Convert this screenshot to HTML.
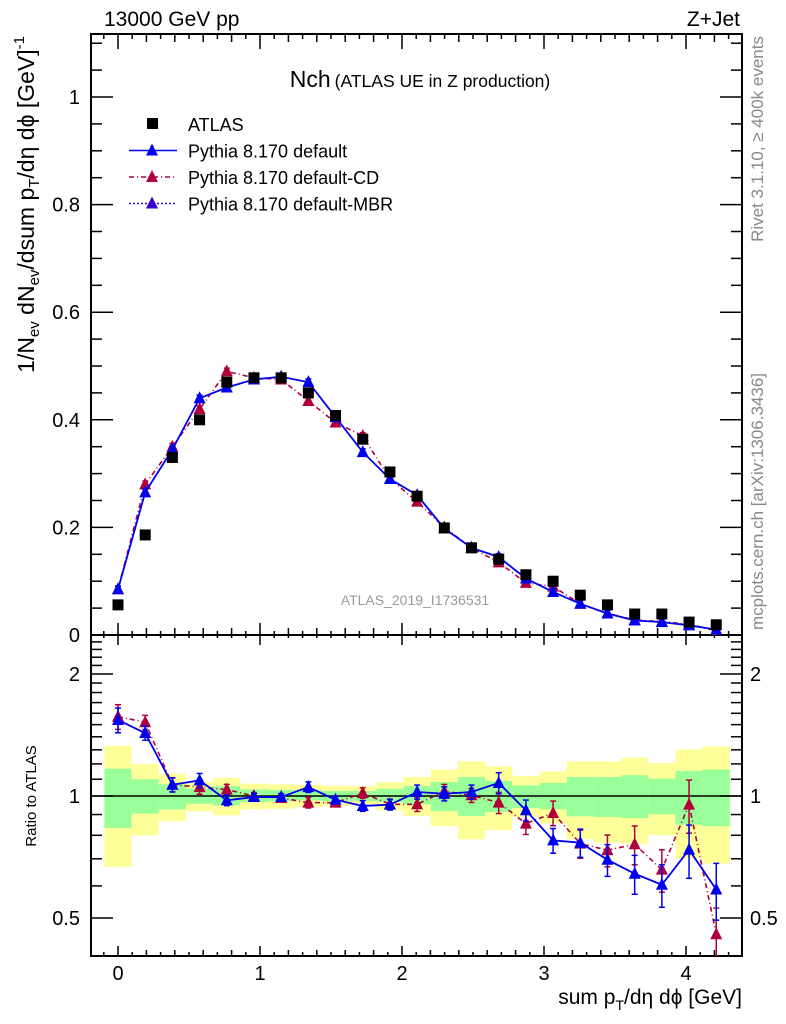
<!DOCTYPE html>
<html><head><meta charset="utf-8"><style>
html,body{margin:0;padding:0;background:#fff;}
svg{display:block;font-family:"Liberation Sans",sans-serif;}
</style></head><body>
<svg id="chart" width="786" height="1024" viewBox="0 0 786 1024" xmlns="http://www.w3.org/2000/svg">
<defs>
<clipPath id="clipMain"><rect x="91" y="34" width="651" height="601"/></clipPath>
<clipPath id="clipRatio"><rect x="91" y="635" width="651" height="321"/></clipPath>
</defs>
<g id="bands" clip-path="url(#clipRatio)"></g>
<g id="axes"></g>
<g id="series"></g>
<text x="104" y="26" font-size="21">13000 GeV pp</text>
<text x="740" y="26" font-size="21" text-anchor="end">Z+Jet</text>
<text x="420" y="87" text-anchor="middle"><tspan font-size="23">Nch</tspan><tspan font-size="17.5" dx="4">(ATLAS UE in Z production)</tspan></text>
<text x="415" y="605" font-size="14" fill="#999" text-anchor="middle">ATLAS_2019_I1736531</text>
<text transform="translate(763,36) rotate(-90)" font-size="17" fill="#888" text-anchor="end">Rivet 3.1.10, ≥ 400k events</text>
<text transform="translate(763,630) rotate(-90)" font-size="17" fill="#888" text-anchor="start">mcplots.cern.ch [arXiv:1306.3436]</text>
<text transform="translate(34,36) rotate(-90)" font-size="23" text-anchor="end">1/N<tspan font-size="15" dy="5">ev</tspan><tspan dy="-5"> dN</tspan><tspan font-size="15" dy="5">ev</tspan><tspan dy="-5">/dsum p</tspan><tspan font-size="15" dy="5">T</tspan><tspan dy="-5">/dη dϕ  [GeV]</tspan><tspan font-size="15" dy="-10">-1</tspan></text>
<text transform="translate(36,796) rotate(-90)" font-size="15" text-anchor="middle">Ratio to ATLAS</text>
<text x="742" y="1004" font-size="21" text-anchor="end">sum p<tspan font-size="14" dy="6">T</tspan><tspan dy="-6">/dη dϕ [GeV]</tspan></text>
<g id="legend"></g>
</svg>
<script>
const xValues=[0,0.1915,0.383,0.5745,0.766,0.9575,1.149,1.3405,1.532,1.7235,1.915,2.1065,2.298,2.4895,2.681,2.8725,3.064,3.2555,3.447,3.6385,3.83,4.0215,4.213];
const atlas=[0.056,0.186,0.33,0.40,0.47,0.478,0.478,0.45,0.408,0.364,0.303,0.258,0.199,0.162,0.141,0.112,0.10,0.074,0.056,0.039,0.039,0.024,0.019];
const defMain=[0.085,0.265,0.345,0.44,0.46,0.475,0.48,0.47,0.405,0.34,0.29,0.26,0.198,0.162,0.145,0.105,0.08,0.058,0.04,0.027,0.024,0.018,0.01];
const cdMain=[0.085,0.28,0.35,0.42,0.49,0.478,0.475,0.435,0.395,0.37,0.29,0.248,0.2,0.162,0.135,0.097,0.09,0.058,0.04,0.028,0.025,0.02,0.008];
const defRatio=[1.54,1.43,1.066,1.093,0.976,0.994,0.994,1.052,0.979,0.945,0.952,1.023,1.013,1.023,1.077,0.922,0.777,0.767,0.696,0.643,0.604,0.737,0.588];
const cdRatio=[1.57,1.52,1.066,1.052,1.037,1.0,0.989,0.963,0.963,1.017,0.954,0.954,1.027,1.004,0.963,0.855,0.908,0.763,0.735,0.76,0.658,0.952,0.456];
const ratioErr=[0.07,0.04,0.04,0.04,0.03,0.02,0.02,0.03,0.02,0.03,0.03,0.04,0.04,0.04,0.06,0.06,0.07,0.08,0.09,0.11,0.12,0.15,0.16];
const yellowHi=[1.33,1.20,1.135,1.083,1.108,1.073,1.068,1.066,1.06,1.058,1.081,1.114,1.163,1.218,1.183,1.12,1.15,1.218,1.218,1.243,1.206,1.303,1.326];
const yellowLo=[0.668,0.80,0.866,0.917,0.896,0.927,0.93,0.939,0.945,0.948,0.922,0.893,0.843,0.782,0.823,0.888,0.855,0.782,0.767,0.763,0.80,0.70,0.681];
const greenHi=[1.168,1.10,1.068,1.042,1.058,1.038,1.034,1.034,1.029,1.029,1.042,1.058,1.083,1.114,1.089,1.062,1.077,1.114,1.114,1.125,1.103,1.153,1.163];
const greenLo=[0.834,0.905,0.927,0.957,0.948,0.966,0.97,0.976,0.972,0.972,0.966,0.954,0.918,0.893,0.913,0.934,0.927,0.891,0.888,0.882,0.901,0.85,0.842];
const mainTicks=[0,0.2,0.4,0.6,0.8,1];
const mainTickLabels=["0","0.2","0.4","0.6","0.8","1"];
const ratioTicks=[0.5,1,2];
const ratioTickLabels=["0.5","1","2"];
const xTicks=[0,1,2,3,4];
const xTickLabels=["0","1","2","3","4"];

const NS="http://www.w3.org/2000/svg";
const L=91,R=742,T=34,MB=635,RB=956;
const X=v=>118+142*v;
const Ym=v=>635-538*v;
const Yr=r=>796-122*Math.log2(r);
const binW=0.1915;
function mk(tag,attrs,parent){const e=document.createElementNS(NS,tag);for(const k in attrs)e.setAttribute(k,attrs[k]);parent.appendChild(e);return e;}
const axes=document.getElementById('axes'),series=document.getElementById('series'),bands=document.getElementById('bands'),legend=document.getElementById('legend');

for(let i=0;i<xValues.length;i++){
  const x0=X(xValues[i]-binW/2),w=142*binW;
  const y=mk('rect',{x:x0,y:Yr(yellowHi[i]),width:w,height:Yr(yellowLo[i])-Yr(yellowHi[i]),fill:'#ffff99'},bands);
  
  
  const g=mk('rect',{x:x0,y:Yr(greenHi[i]),width:w,height:Yr(greenLo[i])-Yr(greenHi[i]),fill:'#99ff99'},bands);
  
  
}
mk('line',{x1:L,x2:R,y1:Yr(1),y2:Yr(1),stroke:'#000','stroke-width':1.5},bands);

mk('rect',{x:L,y:T,width:R-L,height:RB-T,fill:'none',stroke:'#000','stroke-width':2},axes);
mk('line',{x1:L,x2:R,y1:MB,y2:MB,stroke:'#000','stroke-width':2},axes);
function tick(x1,y1,x2,y2){mk('line',{x1,y1,x2,y2,stroke:'#000','stroke-width':1.5},axes);}
for(let k=-1;k<=43;k++){
  const v=k/10,x=X(v);if(x<L+1||x>R-1)continue;
  const maj=k%10===0,mid=k%2===0;
  const lt=maj?15:(mid?8:5), lb=maj?10:(mid?6:4);
  tick(x,T,x,T+lt);tick(x,MB-(maj?12:lt-1),x,MB+(maj?10:3));tick(x,RB,x,RB-lb);
}
for(let k=0;k<=22;k++){const v=k*0.05,y=Ym(v);if(y<T+1)continue;const maj=k%4===0;const l=maj?22:11;tick(L,y,L+l,y);tick(R,y,R-l,y);}
mainTicks.forEach((v,i)=>{const t=mk('text',{x:80,y:Ym(v)+7,'font-size':20,'text-anchor':'end'},axes);t.textContent=mainTickLabels[i];

});
for(let k=5;k<=25;k++){const r=k/10,y=Yr(r);if(y<MB+2||y>RB-1)continue;const maj=(k===5||k===10||k===20);const l=maj?22:11;tick(L,y,L+l,y);tick(R,y,R-l,y);}
ratioTicks.forEach((v,i)=>{const t=mk('text',{x:80,y:Yr(v)+7,'font-size':20,'text-anchor':'end'},axes);t.textContent=ratioTickLabels[i];


const t2=mk('text',{x:750,y:Yr(v)+7,'font-size':20},axes);t2.textContent=ratioTickLabels[i];

});
xTicks.forEach((v,i)=>{const t=mk('text',{x:X(v),y:980,'font-size':20,'text-anchor':'middle'},axes);t.textContent=xTickLabels[i];

});

function tri(x,y,c,parent){return mk('polygon',{points:`${x-6},${y+5} ${x+6},${y+5} ${x},${y-7}`,fill:c},parent);}
function drawSeries(vals,yf,color,dash,err,clip,name){
  const g=mk('g',{'clip-path':clip},series);
  
  
  const pts=vals.map((v,i)=>`${X(xValues[i])},${yf(v)}`).join(' ');
  mk('polyline',{points:pts,fill:'none',stroke:color,'stroke-width':dash?1.6:1.8,'stroke-dasharray':dash||'none'},g);
  vals.forEach((v,i)=>{const x=X(xValues[i]);
    const lo=err(v,i,-1),hi=err(v,i,1);
    mk('line',{x1:x,x2:x,y1:yf(hi),y2:yf(lo),stroke:color,'stroke-width':1.5},g);
    mk('line',{x1:x-3,x2:x+3,y1:yf(hi),y2:yf(hi),stroke:color,'stroke-width':1.5},g);
    mk('line',{x1:x-3,x2:x+3,y1:yf(lo),y2:yf(lo),stroke:color,'stroke-width':1.5},g);
    const m=tri(x,yf(v),color,g);
    
    });
}
const mainErr=(v,i,s)=>v+s*Math.max(0.006,v*ratioErr[i]*0.3);
const rErr=(v,i,s)=>v*(1+s*ratioErr[i]);
drawSeries(cdMain,Ym,'#b0003a','5,3,1,3',mainErr,'url(#clipMain)','cd-main-series');
drawSeries(defMain,Ym,'#0000ee',null,mainErr,'url(#clipMain)','default-main-series');
drawSeries(cdRatio,Yr,'#b0003a','5,3,1,3',rErr,'url(#clipRatio)','cd-ratio-series');
drawSeries(defRatio,Yr,'#0000ee',null,rErr,'url(#clipRatio)','default-ratio-series');
const ga=mk('g',{'clip-path':'url(#clipMain)'},series);


atlas.forEach((v,i)=>{const r=mk('rect',{x:X(xValues[i])-5.5,y:Ym(v)-5.5,width:11,height:11,fill:'#000'},ga);

});

const rows=[["ATLAS",null,null],["Pythia 8.170 default","#0000ee",null],["Pythia 8.170 default-CD","#b0003a","5,3,1,3"],["Pythia 8.170 default-MBR","#3300cc","2,2"]];
rows.forEach((r,i)=>{const y=124+i*26.5;
  const e=mk('g',{},legend);
  
  
  if(i===0){mk('rect',{x:147,y:y-6,width:11,height:11,fill:'#000'},e);}
  else{mk('line',{x1:129,x2:177,y1:y,y2:y,stroke:r[1],'stroke-width':1.5,'stroke-dasharray':r[2]||'none'},e);tri(152,y,r[1],e);}
  const t=mk('text',{x:188,y:y+7,'font-size':18},e);t.textContent=r[0];});
</script>
</body></html>
